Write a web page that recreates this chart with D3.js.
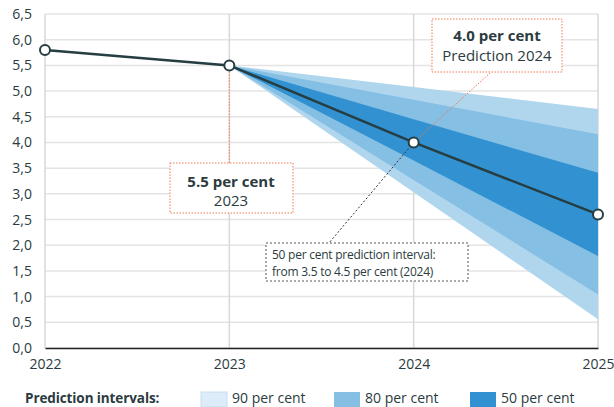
<!DOCTYPE html>
<html>
<head>
<meta charset="utf-8">
<script src="https://cdn.jsdelivr.net/npm/d3@7"></script>
<style>
  body { margin: 0; background: #fff; }
  text { font-family: "Open Sans", "Noto Sans", sans-serif; fill: #2b3b40; }
</style>
</head>
<body>
<svg id="chart" width="614" height="407"></svg>
<script>
// data
var years = [2022, 2023, 2024, 2025];
var values = [5.8, 5.5, 4.0, 2.6];
var fanYears = [2023, 2024, 2025];
var upper90 = [5.5, 5.08, 4.65];
var lower90 = [5.5, 3.03, 0.56];
var upper80 = [5.5, 4.83, 4.16];
var lower80 = [5.5, 3.27, 1.04];
var upper50 = [5.5, 4.45, 3.41];
var lower50 = [5.5, 3.65, 1.79];
var yTicks = d3.range(0, 6.51, 0.5);
var legendLabels = ["90 per cent", "80 per cent", "50 per cent"];

var svg = d3.select("#chart");
var x = d3.scaleLinear().domain([2022, 2025]).range([45, 598]);
var y = d3.scaleLinear().domain([0, 6.5]).range([348, 14]);
var fmt = function(d) { return d3.format(".1f")(d).replace(".", ","); };

// grid
svg.append("g").selectAll("line.h").data(yTicks).enter().append("line")
  .attr("x1", x(2022)).attr("x2", x(2025))
  .attr("y1", function(d) { return y(d); }).attr("y2", function(d) { return y(d); })
  .attr("stroke", "#e4e4e4").attr("stroke-width", 1.5);
svg.append("g").selectAll("line.v").data(years).enter().append("line")
  .attr("x1", function(d) { return x(d); }).attr("x2", function(d) { return x(d); })
  .attr("y1", y(6.5)).attr("y2", y(0))
  .attr("stroke", "#d8d8d8").attr("stroke-width", 1.5);

// fan bands
var bands = [
  { up: upper90, lo: lower90, color: "#b0d6ee" },
  { up: upper80, lo: lower80, color: "#86bfe4" },
  { up: upper50, lo: lower50, color: "#3292d1" }
];
var area = d3.area()
  .x(function(d) { return x(d.year); })
  .y0(function(d) { return y(d.lo); })
  .y1(function(d) { return y(d.hi); });
bands.forEach(function(b) {
  var pts = fanYears.map(function(yr, i) { return { year: yr, lo: b.lo[i], hi: b.up[i] }; });
  svg.append("path").datum(pts).attr("d", area).attr("fill", b.color);
});

// axes
var yAxis = d3.axisLeft(y).tickValues(yTicks).tickFormat(fmt).tickSize(0).tickPadding(13);
var gy = svg.append("g").attr("transform", "translate(" + x(2022) + ",0)").call(yAxis);
gy.select(".domain").remove();
gy.selectAll("text").attr("font-size", 14).style("font-family", "'Open Sans', sans-serif").attr("fill", "#2b3b40");

var xAxis = d3.axisBottom(x).tickValues(years).tickFormat(d3.format("d")).tickSize(0).tickPadding(11);
var gx = svg.append("g").attr("transform", "translate(0," + y(0) + ")").call(xAxis);
gx.select(".domain").attr("stroke", "#222").attr("stroke-width", 1.5);
gx.selectAll("text").attr("font-size", 14).style("font-family", "'Open Sans', sans-serif").attr("fill", "#2b3b40");

// connector lines for annotations
svg.append("line")
  .attr("x1", x(2023)).attr("y1", y(5.5)).attr("x2", x(2023)).attr("y2", 163)
  .attr("stroke", "#f07850").attr("stroke-width", 1).attr("stroke-dasharray", "1.5,1.5");
svg.append("line")
  .attr("x1", x(2024)).attr("y1", y(4.0)).attr("x2", 490).attr("y2", 73)
  .attr("stroke", "#f07850").attr("stroke-width", 1).attr("stroke-dasharray", "1.5,1.5");
svg.append("line")
  .attr("x1", x(2024)).attr("y1", y(4.0)).attr("x2", 329).attr("y2", 243)
  .attr("stroke", "#333").attr("stroke-width", 1).attr("stroke-dasharray", "2,2");

// main line
var line = d3.line().x(function(d, i) { return x(years[i]); }).y(function(d) { return y(d); });
svg.append("path").datum(values).attr("d", line)
  .attr("fill", "none").attr("stroke", "#263d42").attr("stroke-width", 2.5);
svg.selectAll("circle.pt").data(values).enter().append("circle")
  .attr("cx", function(d, i) { return x(years[i]); })
  .attr("cy", function(d) { return y(d); })
  .attr("r", 5).attr("fill", "#fff").attr("stroke", "#263d42").attr("stroke-width", 2);

// annotation boxes
function box(x0, y0, w, h, stroke, dash) {
  svg.append("rect").attr("x", x0).attr("y", y0).attr("width", w).attr("height", h)
    .attr("fill", "#fff").attr("stroke", stroke).attr("stroke-width", 1).attr("stroke-dasharray", dash);
}
box(170, 163, 123, 50, "#f07850", "1.5,1.5");
svg.append("text").attr("x", 231).attr("y", 187).attr("text-anchor", "middle")
  .attr("font-size", 15).attr("font-weight", "bold").text("5.5 per cent");
svg.append("text").attr("x", 231).attr("y", 206).attr("text-anchor", "middle")
  .attr("font-size", 15).text("2023");

box(432, 19, 130, 53, "#f07850", "1.5,1.5");
svg.append("text").attr("x", 497).attr("y", 41).attr("text-anchor", "middle")
  .attr("font-size", 15).attr("font-weight", "bold").text("4.0 per cent");
svg.append("text").attr("x", 497).attr("y", 61).attr("text-anchor", "middle")
  .attr("font-size", 15).text("Prediction 2024");

box(266, 243, 202, 38, "#555", "2,2");
svg.append("text").attr("x", 272).attr("y", 259).attr("font-size", 12).attr("letter-spacing", -0.25)
  .text("50 per cent prediction interval:");
svg.append("text").attr("x", 272).attr("y", 276).attr("font-size", 12).attr("letter-spacing", -0.25)
  .text("from 3.5 to 4.5 per cent (2024)");

// legend
svg.append("text").attr("x", 25).attr("y", 403).attr("font-size", 13.5).attr("font-weight", "bold")
  .attr("letter-spacing", -0.1).text("Prediction intervals:");
var legendColors = ["#dcedf9", "#86bfe4", "#3292d1"];
var legendX = [201, 334, 470];
legendLabels.forEach(function(l, i) {
  svg.append("rect").attr("x", legendX[i]).attr("y", 392).attr("width", 26).attr("height", 15)
    .attr("fill", legendColors[i]).attr("stroke", i === 0 ? "#c6dfee" : "none");
  svg.append("text").attr("x", legendX[i] + 31).attr("y", 403).attr("font-size", 14).text(l);
});
</script>
</body>
</html>
